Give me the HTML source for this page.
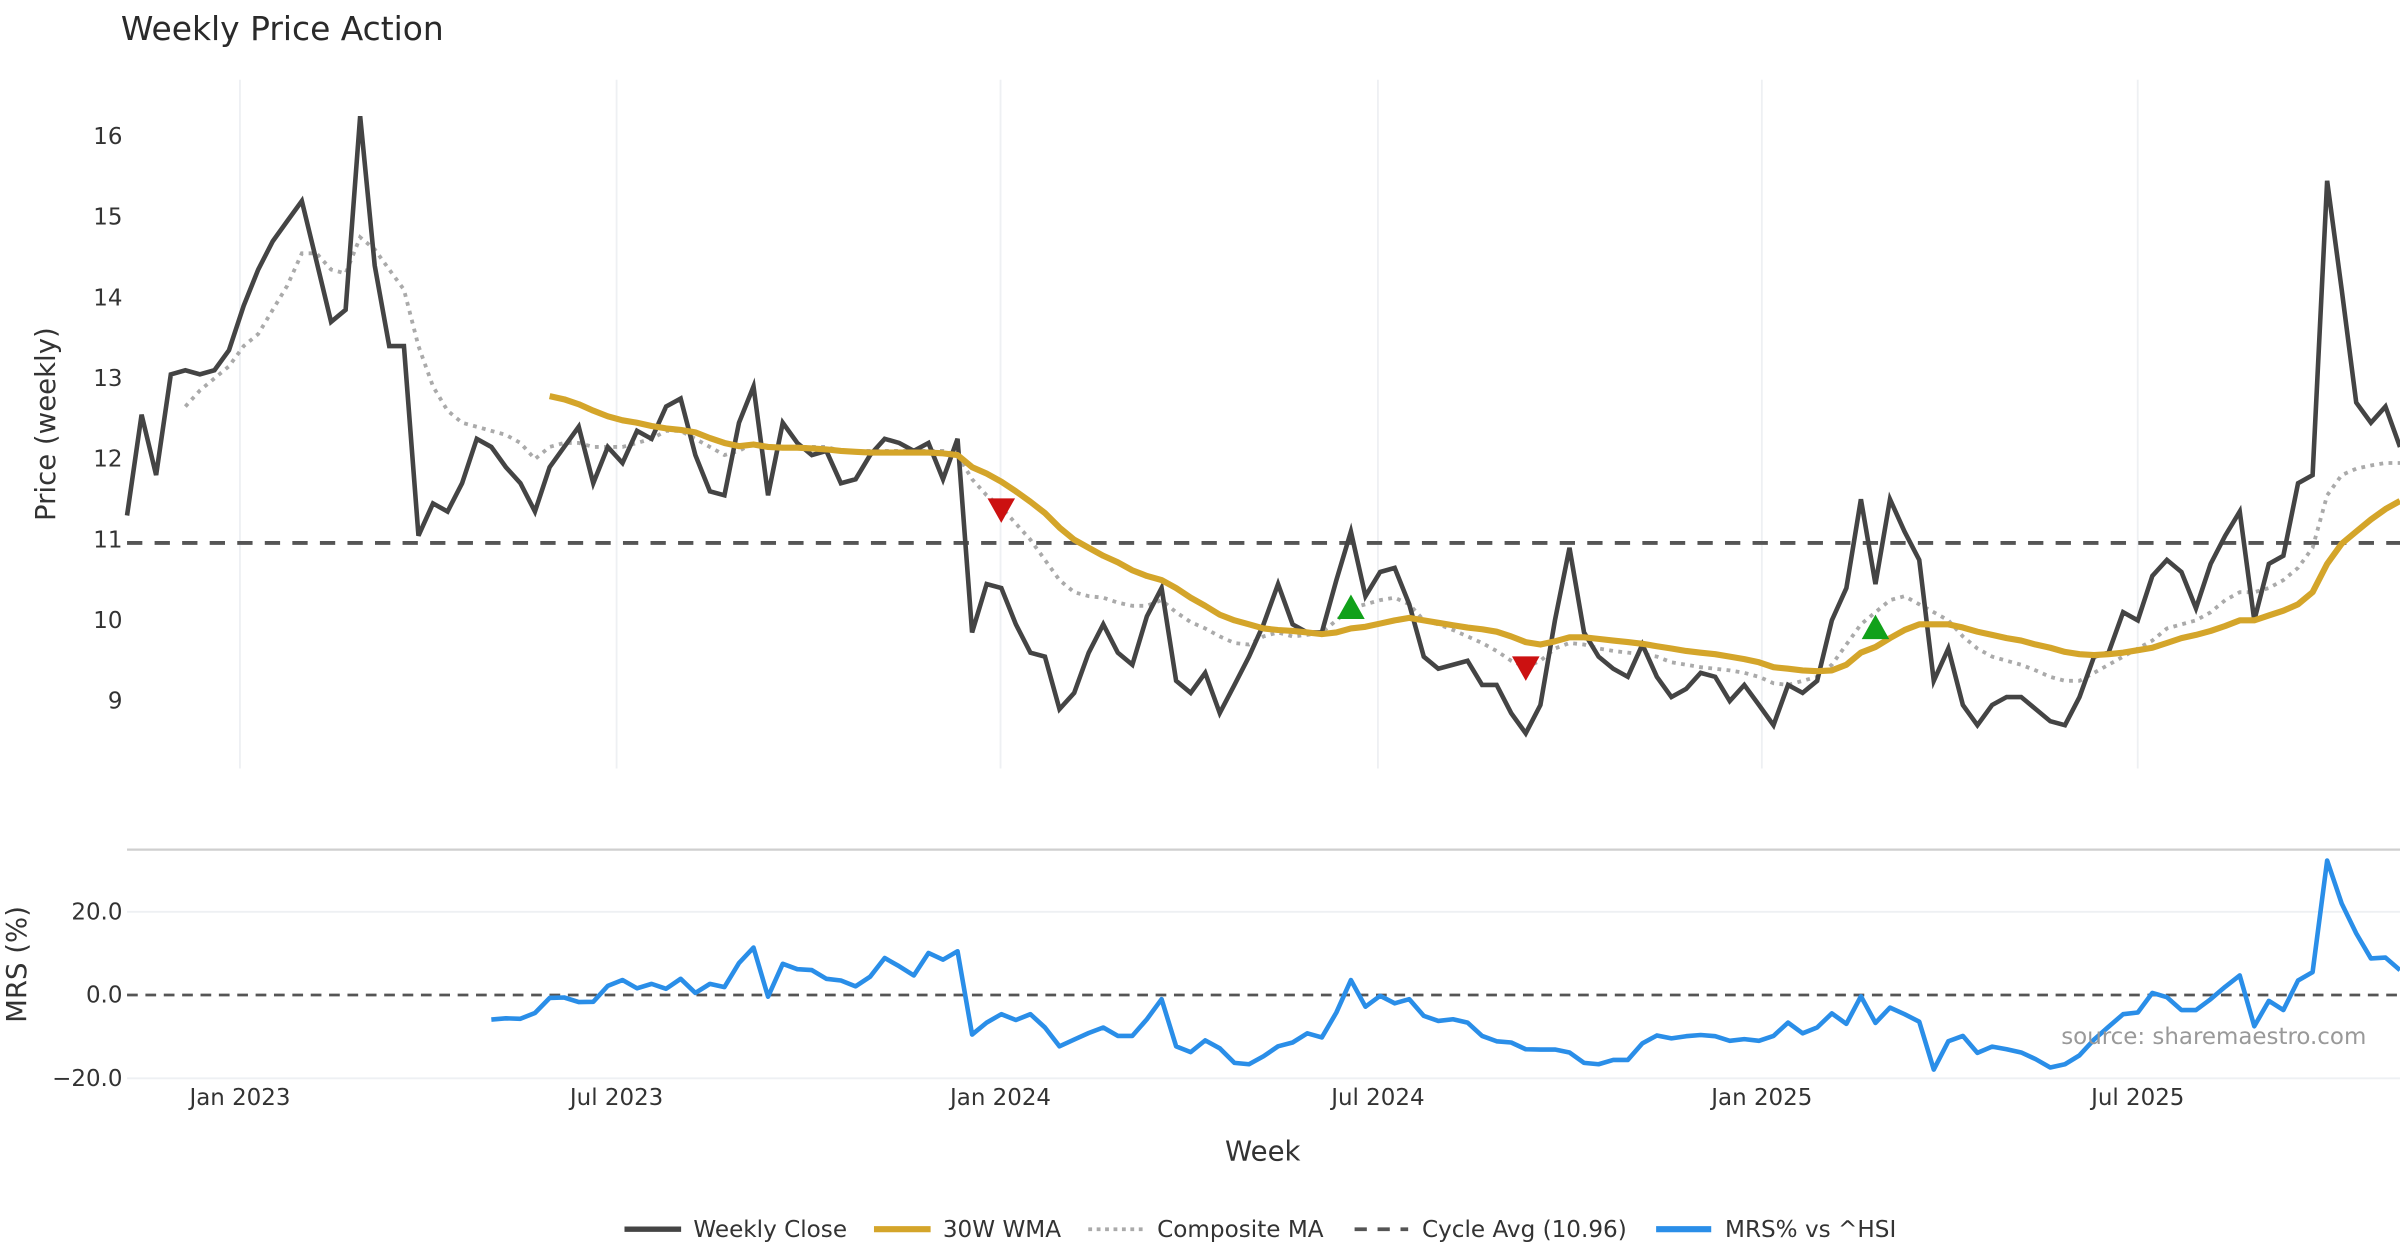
<!DOCTYPE html>
<html><head><meta charset="utf-8"><style>
html,body{margin:0;padding:0;background:#fff;}
svg{display:block;font-family:"DejaVu Sans","Liberation Sans",sans-serif;}
</style></head><body>
<svg id="chart" width="2400" height="1260" viewBox="0 0 1568 823" xmlns="http://www.w3.org/2000/svg">
<rect width="1568" height="823" fill="#fff"/>
<text x="79" y="26" font-size="21.5" fill="#2a2a2a">Weekly Price Action</text>
<g id="grid"></g>
<line x1="83" y1="555" x2="1568" y2="555" stroke="#cfcfcf" stroke-width="1.5"/>
<g id="series"></g>
<g id="axes"></g>
<text transform="translate(36,277) rotate(-90)" text-anchor="middle" font-size="18" fill="#333">Price (weekly)</text>
<text transform="translate(17,630) rotate(-90)" text-anchor="middle" font-size="18" fill="#333">MRS (%)</text>
<text x="825" y="758" text-anchor="middle" font-size="18" fill="#333">Week</text>
<text x="1546" y="682" text-anchor="end" font-size="15" fill="#999">source: sharemaestro.com</text>
<g font-size="15.1" fill="#333">
<g><line x1="408" y1="803" x2="445" y2="803" stroke="#444" stroke-width="3.5"/><text x="453" y="808">Weekly Close</text></g>
<g><line x1="571" y1="803" x2="608" y2="803" stroke="#d4a52a" stroke-width="4"/><text x="616" y="808">30W WMA</text></g>
<g><line x1="711" y1="803" x2="748" y2="803" stroke="#aaa" stroke-width="2.5" stroke-dasharray="2.5,3"/><text x="756" y="808">Composite MA</text></g>
<g><line x1="885" y1="803" x2="920" y2="803" stroke="#555" stroke-width="2.5" stroke-dasharray="8,7"/><text x="929" y="808">Cycle Avg (10.96)</text></g>
<g><line x1="1082" y1="803" x2="1118" y2="803" stroke="#2a8ee8" stroke-width="4"/><text x="1127" y="808">MRS% vs ^HSI</text></g>
</g>
</svg>
<script>
const closeVals=[11.3,12.55,11.8,13.05,13.1,13.05,13.1,13.35,13.9,14.35,14.7,14.95,15.2,14.45,13.7,13.85,16.25,14.4,13.4,13.4,11.05,11.45,11.35,11.7,12.25,12.15,11.9,11.7,11.35,11.9,12.15,12.4,11.7,12.15,11.95,12.35,12.25,12.65,12.75,12.05,11.6,11.55,12.45,12.9,11.55,12.45,12.2,12.05,12.1,11.7,11.75,12.05,12.25,12.2,12.1,12.2,11.75,12.25,9.85,10.45,10.4,9.95,9.6,9.55,8.9,9.1,9.6,9.95,9.6,9.45,10.05,10.4,9.25,9.1,9.35,8.85,9.2,9.55,9.95,10.45,9.95,9.85,9.85,10.5,11.1,10.3,10.6,10.65,10.2,9.55,9.4,9.45,9.5,9.2,9.2,8.85,8.6,8.95,10,10.9,9.85,9.55,9.4,9.3,9.7,9.3,9.05,9.15,9.35,9.3,9,9.2,8.95,8.7,9.2,9.1,9.25,10,10.4,11.5,10.45,11.5,11.1,10.75,9.25,9.65,8.95,8.7,8.95,9.05,9.05,8.9,8.75,8.7,9.05,9.55,9.6,10.1,10,10.55,10.75,10.6,10.15,10.7,11.05,11.35,10,10.7,10.8,11.7,11.8,15.45,14.1,12.7,12.45,12.65,12.15];
const wmaStart=29;
const wmaVals=[12.78,12.74,12.68,12.6,12.53,12.48,12.45,12.41,12.38,12.36,12.33,12.26,12.2,12.16,12.18,12.15,12.14,12.14,12.13,12.12,12.1,12.09,12.08,12.08,12.08,12.08,12.08,12.07,12.05,11.9,11.82,11.72,11.6,11.47,11.33,11.15,11.0,10.9,10.8,10.72,10.62,10.55,10.5,10.4,10.28,10.18,10.07,10.0,9.95,9.9,9.88,9.87,9.85,9.83,9.85,9.9,9.92,9.96,10.0,10.03,10.0,9.97,9.94,9.91,9.89,9.86,9.8,9.73,9.7,9.74,9.79,9.79,9.77,9.75,9.73,9.71,9.68,9.65,9.62,9.6,9.58,9.55,9.52,9.48,9.42,9.4,9.38,9.37,9.38,9.45,9.6,9.67,9.78,9.88,9.95,9.95,9.95,9.91,9.86,9.82,9.78,9.75,9.7,9.66,9.61,9.58,9.57,9.58,9.6,9.63,9.66,9.72,9.78,9.82,9.87,9.93,10.0,10.0,10.06,10.12,10.2,10.35,10.7,10.95,11.1,11.25,11.38,11.48];
const compStart=4;
const compVals=[12.65,12.85,13.0,13.15,13.4,13.55,13.85,14.15,14.55,14.55,14.35,14.3,14.75,14.6,14.35,14.1,13.4,12.9,12.6,12.45,12.4,12.35,12.3,12.2,12.0,12.15,12.2,12.2,12.15,12.15,12.15,12.2,12.25,12.35,12.35,12.25,12.15,12.05,12.1,12.2,12.15,12.15,12.15,12.15,12.15,12.1,12.1,12.1,12.1,12.1,12.1,12.1,12.1,12.05,11.75,11.55,11.4,11.2,11.0,10.75,10.5,10.35,10.3,10.28,10.22,10.18,10.18,10.25,10.1,9.98,9.9,9.8,9.72,9.7,9.8,9.85,9.8,9.82,9.85,10.0,10.15,10.2,10.25,10.28,10.2,10.0,9.95,9.88,9.8,9.72,9.62,9.5,9.42,9.5,9.65,9.72,9.7,9.65,9.62,9.6,9.58,9.55,9.48,9.45,9.42,9.4,9.38,9.35,9.3,9.22,9.2,9.25,9.3,9.45,9.7,9.95,10.1,10.25,10.3,10.2,10.1,10.0,9.8,9.65,9.55,9.5,9.45,9.38,9.3,9.25,9.25,9.35,9.45,9.55,9.65,9.75,9.9,9.95,10.0,10.1,10.25,10.35,10.35,10.4,10.5,10.65,10.9,11.55,11.8,11.88,11.92,11.95,11.95];
const mrsStart=25;
const mrsVals=[-5.9,-5.6,-5.7,-4.3,-0.7,-0.6,-1.7,-1.6,2.2,3.6,1.6,2.7,1.5,3.9,0.5,2.7,1.9,7.7,11.4,-0.4,7.5,6.2,6,3.9,3.5,2.1,4.4,8.9,6.9,4.7,10.1,8.5,10.5,-9.5,-6.6,-4.6,-6.0,-4.6,-7.8,-12.3,-10.7,-9.1,-7.8,-9.8,-9.8,-5.8,-1,-12.3,-13.7,-10.9,-12.8,-16.3,-16.6,-14.7,-12.3,-11.4,-9.2,-10.2,-4.2,3.6,-2.8,-0.2,-2,-1,-5,-6.2,-5.8,-6.6,-9.8,-11.1,-11.4,-13,-13.1,-13.1,-13.8,-16.3,-16.6,-15.6,-15.6,-11.6,-9.7,-10.4,-9.9,-9.6,-9.9,-11,-10.6,-11,-9.8,-6.6,-9.2,-7.8,-4.4,-6.9,-0.3,-6.7,-3,-4.6,-6.4,-17.9,-11.1,-9.8,-13.9,-12.4,-13,-13.8,-15.4,-17.4,-16.6,-14.5,-10.7,-7.6,-4.6,-4.2,0.5,-0.5,-3.6,-3.6,-1,2,4.7,-7.5,-1.4,-3.6,3.5,5.5,32.3,22,14.8,8.8,9,6];
const cycleAvg=10.96;
const sigIdx=[60,84,96,120];
const sigVals=[11.38,10.15,9.42,9.9];
const sigTypes=['sell','buy','sell','buy'];
const priceTicks=[9,10,11,12,13,14,15,16];
const mrsTicks=[20,0,-20];
const mrsTickLabels=['20.0','0.0','\u221220.0'];
const dateLabels=['Jan 2023','Jul 2023','Jan 2024','Jul 2024','Jan 2025','Jul 2025'];
const dateIdx=[7.75,33.6,59.95,85.85,112.2,138.0];

const NS='http://www.w3.org/2000/svg';
const X0=83,X1=1568;
const step=(X1-X0)/(closeVals.length-1);
function xs(i){return X0+i*step;}
function yp(v){return 89+(16-v)*52.7;}
function ym(v){return 650-v*2.72;}
function mk(tag,attrs,parent){const e=document.createElementNS(NS,tag);for(const k in attrs)e.setAttribute(k,attrs[k]);parent.appendChild(e);return e;}
const grid=document.getElementById('grid'),series=document.getElementById('series'),axes=document.getElementById('axes');

dateIdx.forEach((d,k)=>{
  const g=mk('line',{x1:xs(d),x2:xs(d),y1:52,y2:502,stroke:'#eef0f3','stroke-width':1.2},grid);
  
  
  const t=mk('text',{x:xs(d),y:722,'text-anchor':'middle','font-size':15,fill:'#333'},axes);
  t.textContent=dateLabels[k];
  
  
});
priceTicks.forEach(v=>{
  const t=mk('text',{x:80,y:yp(v)+5,'text-anchor':'end','font-size':15,fill:'#333'},axes);
  t.textContent=v;
  
  
});
mrsTicks.forEach((v,k)=>{
  if(v!==0){const g=mk('line',{x1:X0,x2:X1,y1:ym(v),y2:ym(v),stroke:'#eef0f3','stroke-width':1.2},grid);
  
  }
  const t=mk('text',{x:80,y:ym(v)+5,'text-anchor':'end','font-size':15,fill:'#333'},axes);
  t.textContent=mrsTickLabels[k];
  
  
});
function path(vals,start,yf){return vals.map((v,i)=>(i?'L':'M')+xs(start+i).toFixed(1)+','+yf(v).toFixed(1)).join(' ');}

const ca=mk('line',{x1:X0,x2:X1,y1:yp(cycleAvg),y2:yp(cycleAvg),stroke:'#555','stroke-width':2.5,'stroke-dasharray':'10,8'},series);


const cp=mk('path',{d:path(compVals,compStart,yp),fill:'none',stroke:'#aaa','stroke-width':2.5,'stroke-dasharray':'2.5,3.5'},series);


const cl=mk('path',{d:path(closeVals,0,yp),fill:'none',stroke:'#444','stroke-width':3,'stroke-linejoin':'miter'},series);


const wl=mk('path',{d:path(wmaVals,wmaStart,yp),fill:'none',stroke:'#d4a52a','stroke-width':4,'stroke-linejoin':'round'},series);


sigIdx.forEach((ix,k)=>{
  const x=xs(ix),y=yp(sigVals[k]),s=9;
  const pts=sigTypes[k]==='sell'?`${x-s},${y-7} ${x+s},${y-7} ${x},${y+9}`:`${x-s},${y+7} ${x+s},${y+7} ${x},${y-9}`;
  const p=mk('polygon',{points:pts,fill:sigTypes[k]==='sell'?'#cc1111':'#11a11a'},series);
  
  
});
const z=mk('line',{x1:X0,x2:X1,y1:ym(0),y2:ym(0),stroke:'#555','stroke-width':1.8,'stroke-dasharray':'7,5'},series);


const ml=mk('path',{d:path(mrsVals,mrsStart,ym),fill:'none',stroke:'#2a8ee8','stroke-width':3,'stroke-linejoin':'round'},series);


</script>
</body></html>
